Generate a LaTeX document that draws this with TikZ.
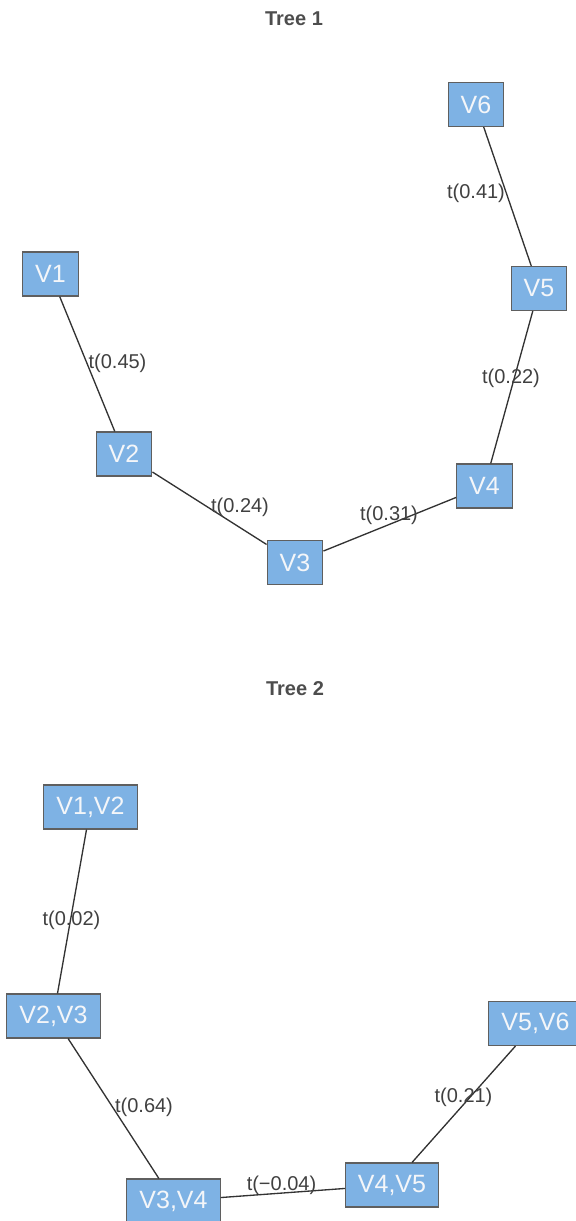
\documentclass[tikz,border=0pt]{standalone}
\usepackage{fontspec}
\setmainfont{Liberation Sans}
\definecolor{vfill}{HTML}{7EB2E4}
\definecolor{vborder}{HTML}{5F5F5F}
\definecolor{vtext}{HTML}{F4F6F9}
\definecolor{edgecol}{HTML}{333333}
\definecolor{labcol}{HTML}{404040}
\definecolor{titlecol}{HTML}{4D4D4D}
\begin{document}
\begin{tikzpicture}[x=0.75pt,y=-0.75pt,
  vbox/.style={draw=vborder,line width=0.8pt,fill=vfill,text=vtext,
    font=\fontsize{18.75pt}{20pt}\selectfont,inner xsep=9.45pt,inner ysep=0pt,
    minimum height=33pt},
  elabel/.style={text=labcol,font=\fontsize{15pt}{17pt}\selectfont,inner sep=0pt},
  ttl/.style={text=titlecol,font=\bfseries\fontsize{15pt}{17pt}\selectfont,anchor=base,inner sep=0pt},
  edge/.style={draw=edgecol,line width=1pt}]
\useasboundingbox (0,0) rectangle (575,1221);

% first tree
\node[ttl] (title1) at (294,25) {Tree 1};
\node[vbox] (v1) at (50.5,274) {V1};
\node[vbox] (v2) at (124,454) {V2};
\node[vbox] (v3) at (295,562.5) {V3};
\node[vbox] (v4) at (484.5,486) {V4};
\node[vbox] (v5) at (539,288.5) {V5};
\node[vbox] (v6) at (476,104.5) {V6};
\draw[edge] (v1) -- (v2);
\draw[edge] (v2) -- (v3);
\draw[edge] (v3) -- (v4);
\draw[edge] (v4) -- (v5);
\draw[edge] (v5) -- (v6);
\node[elabel] (l12) at (117.5,363) {t(0.45)};
\node[elabel] (l23) at (240,507) {t(0.24)};
\node[elabel] (l34) at (389,515) {t(0.31)};
\node[elabel] (l45) at (511,378) {t(0.22)};
\node[elabel] (l56) at (476,193) {t(0.41)};

% second tree
\node[ttl] (title2) at (295,695) {Tree 2};
\node[vbox] (w12) at (90.5,807) {V1,V2};
\node[vbox] (w23) at (53.5,1016) {V2,V3};
\node[vbox] (w34) at (173.5,1201) {V3,V4};
\node[vbox] (w45) at (392,1185) {V4,V5};
\node[vbox] (w56) at (535.5,1023.5) {V5,V6};
\draw[edge] (w12) -- (w23);
\draw[edge] (w23) -- (w34);
\draw[edge] (w34) -- (w45);
\draw[edge] (w45) -- (w56);
\node[elabel] (m1) at (71.5,920) {t(0.02)};
\node[elabel] (m2) at (144,1107) {t(0.64)};
\node[elabel] (m3) at (281.5,1185) {t(−0.04)};
\node[elabel] (m4) at (463.5,1097) {t(0.21)};
\end{tikzpicture}
\end{document}
